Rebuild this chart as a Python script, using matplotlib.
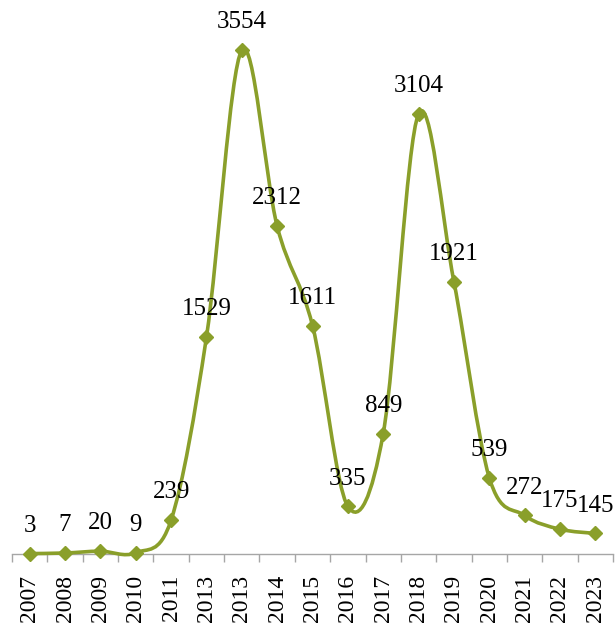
import numpy as np
import matplotlib
matplotlib.use("Agg")
import matplotlib.pyplot as plt
from matplotlib.path import Path
from matplotlib.patches import PathPatch

years = ["2007", "2008", "2009", "2010", "2011", "2013", "2013", "2014", "2015",
         "2016", "2017", "2018", "2019", "2020", "2021", "2022", "2023"]
values = [3, 7, 20, 9, 239, 1529, 3554, 2312, 1611, 335, 849, 3104, 1921, 539, 272, 175, 145]

color = "#8a9f2a"

fig = plt.figure(figsize=(6.16, 6.29), dpi=100)
ax = fig.add_axes([12/616, 75/629, 601/616, 554/629])

x = np.arange(len(values), dtype=float)
y = np.array(values, dtype=float)

# smoothed line (Bezier, Catmull-Rom style control points like Excel's smoothing)
verts = [(x[0], y[0])]
codes = [Path.MOVETO]
n = len(x)
for i in range(n - 1):
    p0 = np.array([x[max(i - 1, 0)], y[max(i - 1, 0)]])
    p1 = np.array([x[i], y[i]])
    p2 = np.array([x[i + 1], y[i + 1]])
    p3 = np.array([x[min(i + 2, n - 1)], y[min(i + 2, n - 1)]])
    c1 = p1 + (p2 - p0) / 6.0
    c2 = p2 - (p3 - p1) / 6.0
    verts += [tuple(c1), tuple(c2), tuple(p2)]
    codes += [Path.CURVE4, Path.CURVE4, Path.CURVE4]
patch = PathPatch(Path(verts, codes), facecolor="none", edgecolor=color,
                  linewidth=2.6, clip_on=False, zorder=3)
ax.add_patch(patch)
ax.plot(x, y, linestyle="none", marker="D", markersize=7, color=color,
        clip_on=False, zorder=4)

for xi, yi, v in zip(x, y, values):
    ax.annotate(str(v), (xi, yi), xytext=(0, 20), textcoords="offset points",
                ha="center", va="center", fontsize=18, family="Liberation Serif",
                color="black")

ax.set_xlim(-0.5, n - 0.5)
ax.set_ylim(0, 3907)
for s in ["left", "right", "top"]:
    ax.spines[s].set_visible(False)
ax.spines["bottom"].set_color("#a6a6a6")
ax.spines["bottom"].set_linewidth(1.0)
ax.set_yticks([])
ax.set_xticks(x)
ax.set_xticklabels(years, rotation=90, fontsize=17, family="Liberation Serif")
ax.tick_params(axis="x", which="major", length=0, pad=15)
ax.set_xticks(np.arange(-0.5, n, 1.0), minor=True)
ax.tick_params(axis="x", which="minor", length=5.5, color="#a6a6a6", width=1.0)
for lab in ax.get_xticklabels():
    lab.set_va("top")

fig.savefig("out.png", dpi=100)
